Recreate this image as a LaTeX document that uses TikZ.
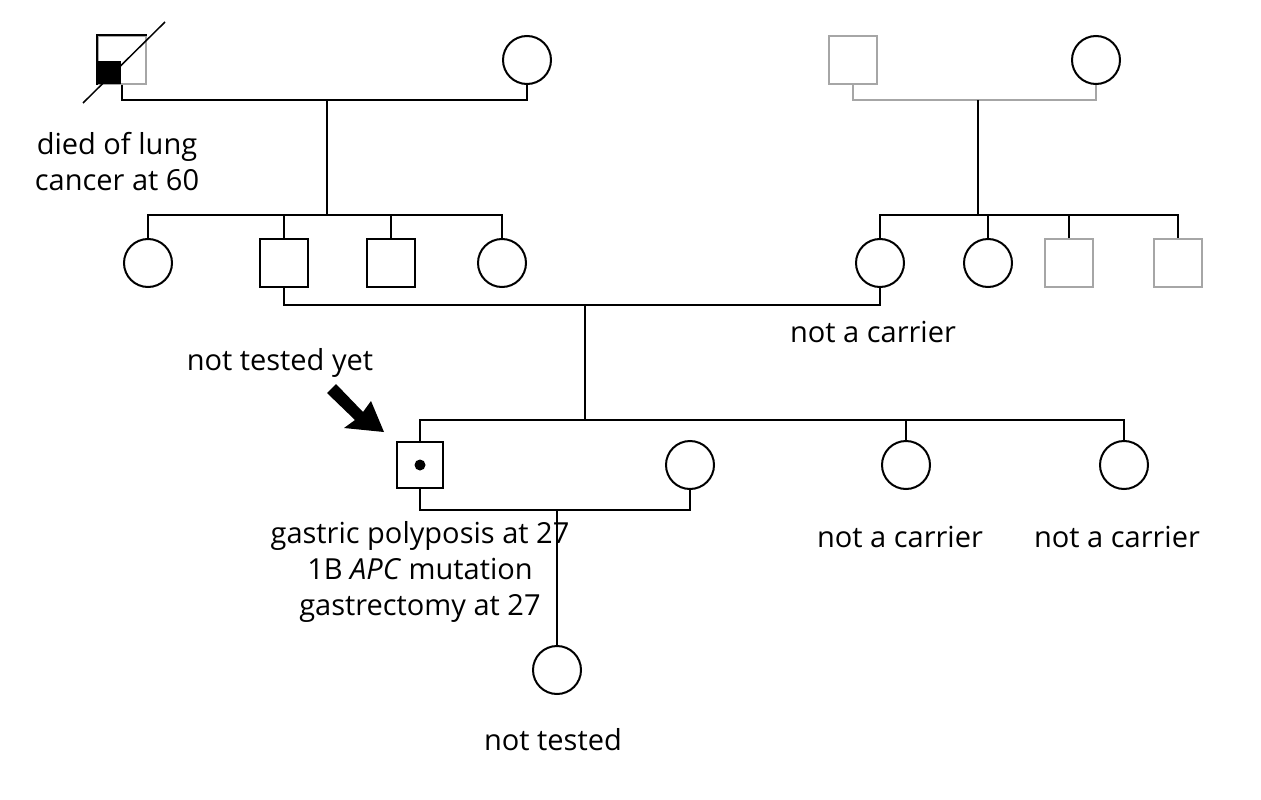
\documentclass[tikz,border=0pt]{standalone}
\usepackage{fontspec}
\setmainfont{Open Sans}
\begin{document}
\begin{tikzpicture}[x=1pt,y=-1pt,
 line width=2pt,
 m/.style={draw,minimum size=48pt,inner sep=0pt,line width=2pt},
 f/.style={draw,circle,minimum size=48pt,inner sep=0pt,line width=2pt},
 g/.style={draw=gray!70},
 lbl/.style={font=\fontsize{29}{36}\selectfont,align=center,inner sep=0pt}]
\useasboundingbox (0,0) rectangle (1261,800);
% gen 1
\node[m,draw=gray!70] (a1) at (122,60) {};
\fill (98,61) rectangle (121,84);
\draw (a1.south west) -- (a1.north west) -- (a1.north east);
\draw[line width=1.5pt] (83,103) -- (165,22);
\node[f] (a2) at (527,60) {};
\node[m,g] (b1) at (853,60) {};
\node[f] (b2) at (1096,60) {};
\coordinate (am) at (327,100);
\draw (a1.south) |- (am) -| (a2.south);
\draw[gray!70] (b1.south) |- (978,100) -| (b2.south);
\node[lbl] (t1) at (117,162) {died of lung\\cancer at 60};
% gen 2
\node[f] (c1) at (148,263) {};
\node[m] (c2) at (284,263) {};
\node[m] (c3) at (391,263) {};
\node[f] (c4) at (502,263) {};
\node[f] (d1) at (880,263) {};
\node[f] (d2) at (988,263) {};
\node[m,g] (d3) at (1069,263) {};
\node[m,g] (d4) at (1178,263) {};
\draw (am) -- (327,215);
\draw (c1.north) |- (327,215) -| (c4.north);
\draw (c2.north) -- (c2.north|-0,215);
\draw (c3.north) -- (c3.north|-0,215);
\draw (978,100) -- (978,215);
\draw (d1.north) |- (978,215) -| (d4.north);
\draw (d2.north) -- (d2.north|-0,215);
\draw (d3.north) -- (d3.north|-0,215);
\node[lbl] (t2) at (873,332) {not a carrier};
\draw (c2.south) |- (585,305) -| (d1.south);
% gen 3
\node[m,minimum size=46pt] (e1) at (420,465) {};
\fill (e1.center) circle (5.5pt);
\node[f] (e2) at (690,465) {};
\node[f] (e3) at (906,465) {};
\node[f] (e4) at (1124,465) {};
\draw (585,305) -- (585,420);
\draw (e1.north) |- (585,420) -| (e4.north);
\draw (e3.north) -- (e3.north|-0,420);
\node[lbl] (t3) at (280,363) {not tested yet};
\coordinate (ar2) at (384,432);
\fill (ar2) -- ++(-40,-4) -- ++(11,-8) -- ++(-28,-27) -- ++(9,-9) -- ++(27,28) -- ++(8,-11) -- cycle;
\draw (e1.south) |- (557,510) -| (e2.south);
\node[lbl] (t4) at (420,572) {gastric polyposis at 27\\1B \textit{APC} mutation\\gastrectomy at 27};
\node[lbl] (t5) at (900,537) {not a carrier};
\node[lbl] (t6) at (1117,537) {not a carrier};
\node[f] (g1) at (557,670) {};
\draw (557,510) -- (g1.north);
\node[lbl] (t7) at (553,740) {not tested};
\end{tikzpicture}
\end{document}
